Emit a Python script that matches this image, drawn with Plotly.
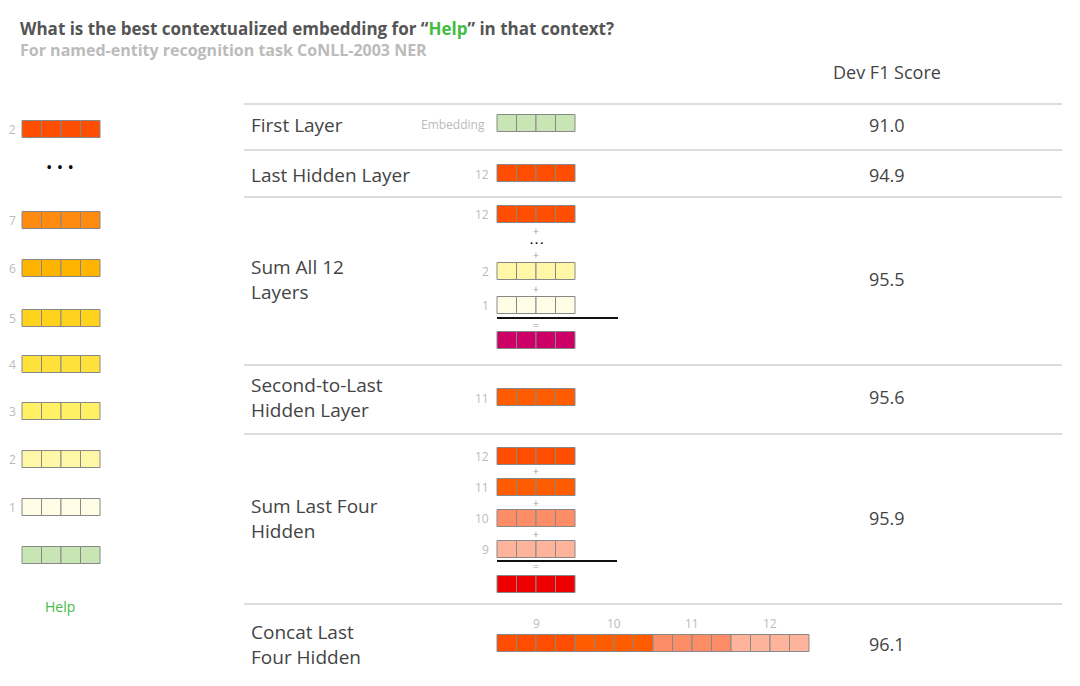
import plotly.graph_objects as go

# ---- data ----
methods = ["First Layer", "Last Hidden Layer", "Sum All 12<br>Layers",
           "Second-to-Last<br>Hidden Layer", "Sum Last Four<br>Hidden", "Concat Last<br>Four Hidden"]
scores = ["91.0", "94.9", "95.5", "95.6", "95.9", "96.1"]
left_layers = ["12", "7", "6", "5", "4", "3", "2", "1", ""]
layer_colors = {"12": "#FF4E00", "11": "#FF5C00", "10": "#FC8D67", "9": "#FDB49A",
                "7": "#FF8A10", "6": "#FFB400", "5": "#FFD21E", "4": "#FFE13C",
                "3": "#FFF064", "2": "#FFF7A8", "1": "#FFFDE6", "": "#C8E6B4",
                "sumall": "#CC0066", "sum4": "#EE0000"}

# ---- layout positions (pixels) ----
left_y = [129, 220, 268, 318, 364, 411, 459, 507, 555]
method_y = [125, 175, 279, 397, 518, 644]
sep_y = [104, 150, 197, 365, 434, 604]

shapes, ann = [], []
CW, H = 19.5, 17

def block(x0, yc, color, n=4):
    for i in range(n):
        c = color[i] if isinstance(color, list) else color
        shapes.append(dict(type="rect", x0=x0 + i * CW, x1=x0 + (i + 1) * CW,
                           y0=yc - H / 2, y1=yc + H / 2, fillcolor=c,
                           line=dict(color="#888", width=1)))

def txt(x, y, s, size=12, color="#bbb", xa="center", bold=False, family="Open Sans"):
    ann.append(dict(x=x, y=y, text=f"<b>{s}</b>" if bold else s, showarrow=False, align=xa if xa != "right" else "right",
                    xanchor=xa, yanchor="middle", font=dict(size=size, color=color, family=family)))

# left column
for lab, y in zip(left_layers, left_y):
    block(22, y, layer_colors[lab])
    if lab:
        txt(18, y, lab, 12, "#bbb", "right")
txt(60, 166, "• • •", 17, "#000")
txt(60, 606, "Help", 14, "#44BB44")

# separators
for y in sep_y:
    shapes.append(dict(type="line", x0=244, x1=1062, y0=y, y1=y, line=dict(color="#ddd", width=2)))

# method labels & scores
for m, s, y in zip(methods, scores, method_y):
    txt(249, y, m, 19, "#444", "left")
    txt(887, y, s, 18, "#444")
txt(887, 72, "Dev F1 Score", 18, "#444")

MX = 497
block(MX, 123, layer_colors[""]); txt(487, 124, "Embedding", 12, "#bbb", "right")
block(MX, 173, layer_colors["12"]); txt(491, 174, "12", 12, "#bbb", "right")
block(MX, 214, layer_colors["12"]); txt(491, 214, "12", 12, "#bbb", "right")
txt(536, 231, "+", 10, "#999"); txt(536, 242, "• • •", 8, "#000"); txt(536, 255, "+", 10, "#999")
block(MX, 271, layer_colors["2"]); txt(491, 271, "2", 12, "#bbb", "right")
txt(536, 289, "+", 10, "#999")
block(MX, 305, layer_colors["1"]); txt(491, 305, "1", 12, "#bbb", "right")
shapes.append(dict(type="line", x0=497, x1=618, y0=318, y1=318, line=dict(color="#111", width=2)))
txt(536, 325, "=", 10, "#999")
block(MX, 340, layer_colors["sumall"])
block(MX, 397, layer_colors["11"]); txt(491, 398, "11", 12, "#bbb", "right")
for lab, y in zip(["12", "11", "10", "9"], [456, 487, 518, 549]):
    block(MX, y, layer_colors[lab]); txt(491, y, lab, 12, "#bbb", "right")
for y in [471, 503, 534]:
    txt(536, y, "+", 10, "#999")
shapes.append(dict(type="line", x0=497, x1=617, y0=561, y1=561, line=dict(color="#111", width=2)))
txt(536, 566, "=", 10, "#999")
block(MX, 584, layer_colors["sum4"])
concat_labs = ["9", "10", "11", "12"]
concat_cols = [layer_colors["12"]] * 4 + [layer_colors["11"]] * 4 + [layer_colors["10"]] * 4 + [layer_colors["9"]] * 4
block(MX, 643, concat_cols, 16)
for i, lab in enumerate(concat_labs):
    txt(MX + (i * 4 + 2) * CW, 623, lab, 12, "#bbb")

ann.append(dict(x=18, y=28, xanchor="left", yanchor="middle", showarrow=False,
                text="<b>What is the best contextualized embedding for “<span style='color:#44BB44'>Help</span>” in that context?</b>",
                font=dict(size=17, color="#555", family="Open Sans")))
ann.append(dict(x=18, y=50, xanchor="left", yanchor="middle", showarrow=False,
                text="<b>For named-entity recognition task CoNLL-2003 NER</b>",
                font=dict(size=16, color="#bbb", family="Open Sans")))

fig = go.Figure()
fig.update_layout(width=1080, height=686, margin=dict(l=0, r=0, t=0, b=0),
                  plot_bgcolor="white", paper_bgcolor="white", shapes=shapes, annotations=ann,
                  xaxis=dict(range=[8, 1088], visible=False, fixedrange=True),
                  yaxis=dict(range=[694, 8], visible=False, fixedrange=True), showlegend=False)
fig.write_html("out.html", config={"displayModeBar": False})
